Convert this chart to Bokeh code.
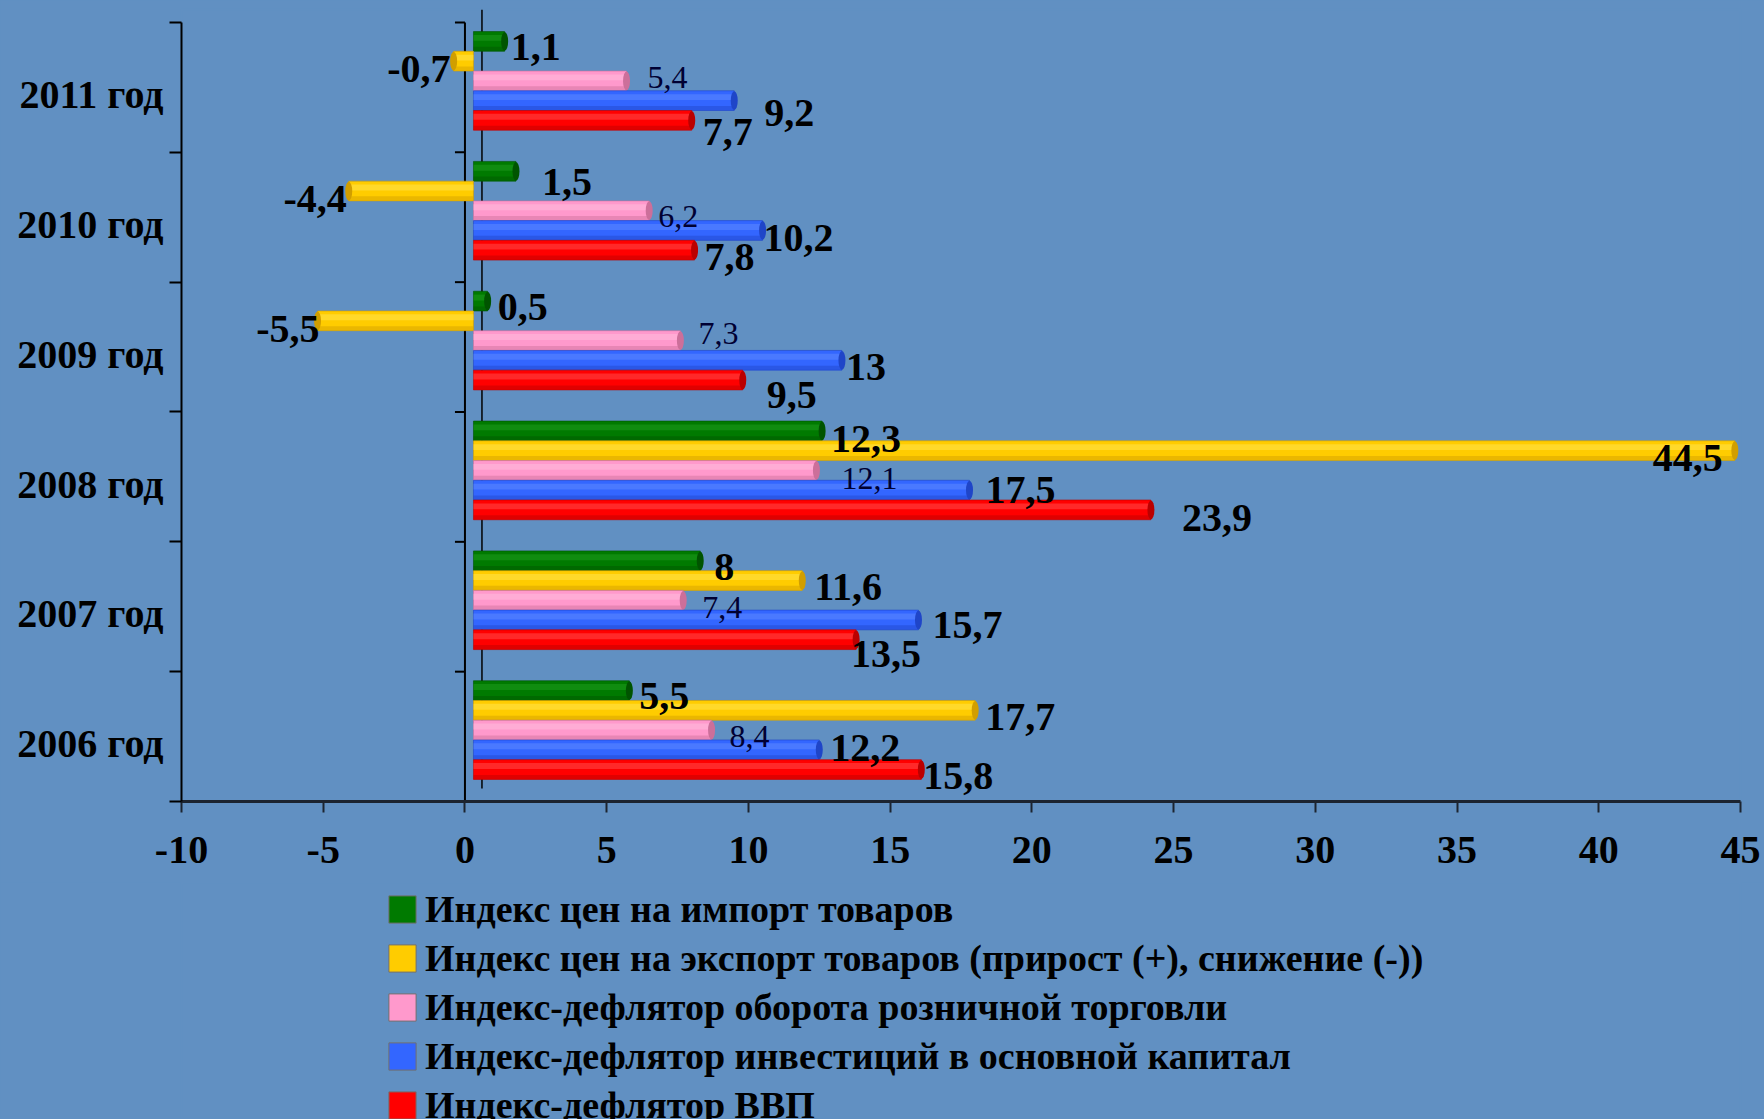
from math import pi
from bokeh.plotting import figure
from bokeh.layouts import column
from bokeh.models import Range1d, FixedTicker, Legend, LegendItem, ColumnDataSource
from bokeh.core.properties import value
from bokeh.embed import file_html
from bokeh.resources import INLINE

# ---------------- data ----------------
years = ["2006 год", "2007 год", "2008 год", "2009 год", "2010 год", "2011 год"]
series_names = [
    "Индекс цен на импорт товаров",
    "Индекс цен на экспорт товаров (прирост (+), снижение (-))",
    "Индекс-дефлятор оборота розничной торговли",
    "Индекс-дефлятор инвестиций в основной капитал",
    "Индекс-дефлятор ВВП",
]
import_prices = [5.5, 8, 12.3, 0.5, 1.5, 1.1]
export_prices = [17.7, 11.6, 44.5, -5.5, -4.4, -0.7]
retail_deflator = [8.4, 7.4, 12.1, 7.3, 6.2, 5.4]
invest_deflator = [12.2, 15.7, 17.5, 13, 10.2, 9.2]
gdp_deflator = [15.8, 13.5, 23.9, 9.5, 7.8, 7.7]
x_ticks = [-10, -5, 0, 5, 10, 15, 20, 25, 30, 35, 40, 45]

series_values = [import_prices, export_prices, retail_deflator, invest_deflator, gdp_deflator]

# ---------------- styles ----------------
FONT = "Liberation Serif"
BG = "#6190C2"
colors = ["#007A00", "#FFCC00", "#FF99CC", "#3366FF", "#FF0000"]
light = ["#1E9A1E", "#FFE34D", "#FFBBDD", "#5C88FF", "#FF4A4A"]
dark = ["#005400", "#D19E00", "#CC6F9A", "#1F45C8", "#BB0000"]

# label nudges in screen px (dx, dy; dy positive = downward), per series, per year
nudge_dx = [
    [10, 14, 9, 10, 26, 6],
    [10, 12, -12, 2, -2, -3],
    [18, 19, 25, 18, 9, 21],
    [11, 14, 16, 4, 1, 30],
    [2, -5, 31, 24, 10, 11],
]
nudge_dy = [
    [5, 6, 8, 6, 11, 6],
    [7, 6, 7, 8, 8, 8],
    [6, 7, 8, -7, 6, -3],
    [-2, 5, 0, 7, 8, 12],
    [6, 14, 8, 15, 7, 12],
]

n = len(years)
DX = 0.3      # 3-D depth offset of the bars (x units)
DY = 0.05     # 3-D depth offset of the bars (category units)
BAR_H = 0.152
LABEL_SHIFT = -0.055
W, H_CHART, H_LEG = 1764, 882, 237

p1 = figure(width=W, height=H_CHART, title=None,
            x_range=Range1d(x_ticks[0], x_ticks[-1]), y_range=Range1d(0, n + 2 * DY),
            output_backend="svg", toolbar_location=None,
            min_border_left=181, min_border_right=24, min_border_top=9, min_border_bottom=81,
            background_fill_color=BG, border_fill_color=BG,
            outline_line_color=BG, outline_line_width=2)
p1.extra_x_ranges = {
    "bars": Range1d(x_ticks[0] - DX, x_ticks[-1] - DX),
    "back": Range1d(x_ticks[0] - 2.0 * DX, x_ticks[-1] - 2.0 * DX),
}
p1.grid.visible = False

# ---------------- axes ----------------
xa = p1.xaxis[0]
xa.ticker = FixedTicker(ticks=x_ticks, minor_ticks=[])
xa.major_label_overrides = {t: str(t) for t in x_ticks}
xa.bounds = (x_ticks[0], x_ticks[-1])
xa.axis_line_width = 3
xa.axis_line_color = "#1c2430"
xa.major_tick_out = 11
xa.major_tick_in = 0
xa.major_tick_line_width = 2
xa.major_tick_line_color = "#1c2430"
xa.major_label_standoff = 24
xa.major_label_text_font = FONT
xa.major_label_text_font_style = "bold"
xa.major_label_text_font_size = "40px"
xa.major_label_text_color = "black"

ya = p1.yaxis[0]
centers = [i + 0.5 + LABEL_SHIFT for i in range(n)]
ya.ticker = FixedTicker(ticks=centers, minor_ticks=list(range(n + 1)))
ya.major_label_overrides = {c: y for c, y in zip(centers, years)}
ya.bounds = (0, n)
ya.axis_line_width = 2
ya.axis_line_color = "black"
ya.major_tick_line_color = None
ya.major_tick_out = 12
ya.major_tick_in = 0
ya.minor_tick_out = 12
ya.minor_tick_in = 0
ya.minor_tick_line_color = "black"
ya.minor_tick_line_width = 2
ya.major_label_standoff = 6
ya.major_label_text_font = FONT
ya.major_label_text_font_style = "bold"
ya.major_label_text_font_size = "40px"
ya.major_label_text_color = "black"

# zero line with its own ticks, and back wall line
p1.segment(x0=[0], y0=[0], x1=[0], y1=[n], line_color="black", line_width=2)
p1.ray(x=[0] * (n + 1), y=list(range(n + 1)), length=10, length_units="screen",
       angle=pi, line_color="black", line_width=2)
p1.segment(x0=[0], y0=[2 * DY], x1=[0], y1=[n + 2 * DY], x_range_name="back",
           line_color="black", line_width=1.5)

# ---------------- bars ----------------
label_jobs = []
for k, vals in enumerate(series_values):
    off = DY + (2 - k) * BAR_H
    ys = [i + 0.5 + off for i in range(n)]
    src = ColumnDataSource(dict(y=ys, v=vals, z=[0] * n))
    p1.hbar(y="y", left="z", right="v", height=BAR_H, source=src, x_range_name="bars",
            fill_color=colors[k], line_color=dark[k], line_width=1, line_alpha=0.6)
    # cylinder shading
    src_hi = ColumnDataSource(dict(y=[y + 0.18 * BAR_H for y in ys], v=vals, z=[0] * n))
    p1.hbar(y="y", left="z", right="v", height=0.3 * BAR_H, source=src_hi, x_range_name="bars",
            fill_color=light[k], fill_alpha=0.55, line_color=None)
    src_lo = ColumnDataSource(dict(y=[y - 0.38 * BAR_H for y in ys], v=vals, z=[0] * n))
    p1.hbar(y="y", left="z", right="v", height=0.22 * BAR_H, source=src_lo, x_range_name="bars",
            fill_color=dark[k], fill_alpha=0.45, line_color=None)
    p1.ellipse(x="v", y="y", width=7, width_units="screen", height=BAR_H * 0.95, source=src,
               x_range_name="bars", fill_color=dark[k], line_color=None)
    label_jobs.append((k, vals, ys))

# value labels (drawn after all bars)
for k, vals, ys in label_jobs:
    labels = [f"{v:g}".replace(".", ",") for v in vals]
    right_side = [v < 0 or (k == 1 and v == max(vals)) for v in vals]
    for align in ("left", "right"):
        idx = [i for i in range(n) if (align == "right") == right_side[i]]
        if not idx:
            continue
        lsrc = ColumnDataSource(dict(
            x=[vals[i] for i in idx], y=[ys[i] for i in idx], t=[labels[i] for i in idx],
            dx=[nudge_dx[k][i] for i in idx], dy=[nudge_dy[k][i] for i in idx]))
        if k == 2:
            fsize, fstyle, fcol = "32px", "normal", "#000033"
        else:
            fsize, fstyle, fcol = "40px", "bold", "black"
        p1.text(x="x", y="y", text="t", x_offset="dx", y_offset="dy", source=lsrc,
                x_range_name="bars", text_align=align, text_baseline="middle",
                text_font=value(FONT), text_font_style=fstyle, text_font_size=fsize,
                text_color=fcol)

# ---------------- legend (own strip below the chart) ----------------
p2 = figure(width=W, height=H_LEG, title=None, x_axis_type=None, y_axis_type=None,
            x_range=Range1d(0, 1), y_range=Range1d(0, 1),
            output_backend="svg", toolbar_location=None, min_border=0,
            background_fill_color=BG, border_fill_color=BG,
            outline_line_color=BG, outline_line_width=2)
p2.grid.visible = False
legend_items = []
for k, (name, vals) in enumerate(zip(series_names, series_values)):
    r = p2.hbar(y=list(range(n)), right=vals, height=0.1, fill_color=colors[k],
                line_color="#707070", line_width=1, visible=False)
    legend_items.append(LegendItem(label=name, renderers=[r]))
legend = Legend(items=legend_items, location=(204, -8), orientation="vertical",
                glyph_width=34, glyph_height=34, label_standoff=6, spacing=5,
                padding=0, margin=0, border_line_color=None, background_fill_alpha=0,
                inactive_fill_alpha=0,
                label_text_font=FONT, label_text_font_style="bold",
                label_text_font_size="38px", label_text_color="black")
p2.add_layout(legend)

p = column(p1, p2, spacing=0, styles={"background-color": BG})

open("out.html", "w").write(file_html(p, INLINE))
